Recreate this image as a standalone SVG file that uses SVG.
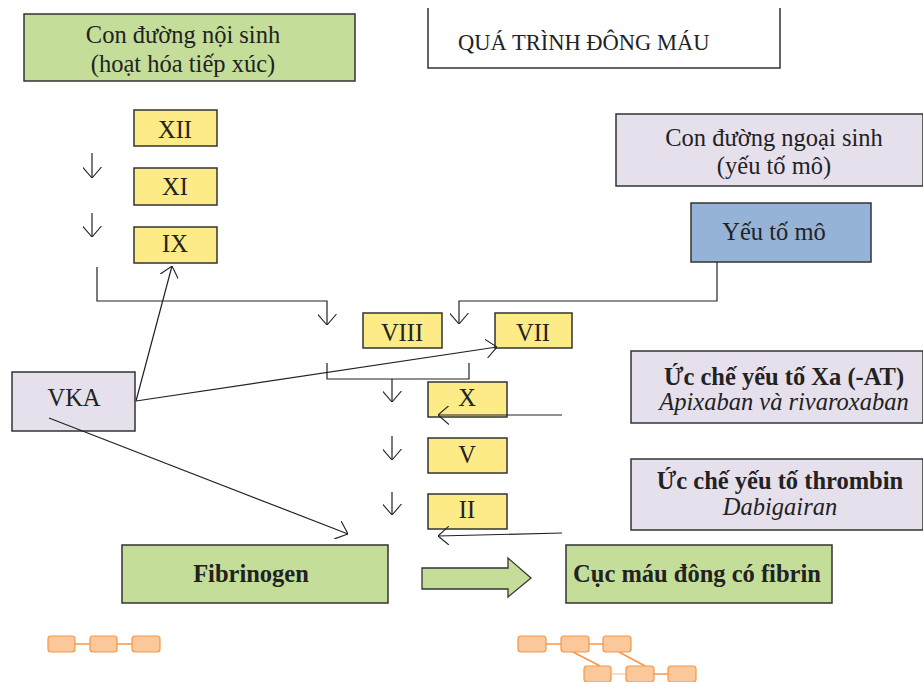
<svg xmlns="http://www.w3.org/2000/svg" width="923" height="682" viewBox="0 0 923 682" font-family="Liberation Serif, Times New Roman, serif">
  <style>
    .t { fill: #222; }
    .r { font-size: 24.5px; }
    .b { font-size: 24.5px; font-weight: bold; }
    .i { font-size: 24.5px; font-style: italic; }
    .box { stroke: #333; stroke-width: 1.5; }
    .green { fill: #c4de9a; }
    .yellow { fill: #fdeb87; }
    .lav { fill: #e6e0ec; }
    .blue { fill: #95b3d7; }
    .ln { fill: none; stroke: #222; stroke-width: 1.2; }
    .ch rect { fill: #fac89a; stroke: #f79646; stroke-width: 1.2; }
    .ch line { stroke: #f79646; stroke-width: 1.5; }
  </style>
  <defs>
    <marker id="open" viewBox="0 0 10 10" refX="10" refY="5" markerWidth="11" markerHeight="19" markerUnits="userSpaceOnUse" orient="auto" preserveAspectRatio="none">
      <path d="M0,0 L10,5 L0,10" fill="none" stroke="#222" stroke-width="1.1" vector-effect="non-scaling-stroke"/>
    </marker>
  </defs>

  <!-- title -->
  <g id="title">
    <path d="M428,8 V68 H780 V8" fill="none" stroke="#333" stroke-width="1.5"/>
    <text class="t" x="458" y="50" font-size="22.5">QUÁ TRÌNH ĐÔNG MÁU</text>
  </g>

  <g id="intrinsic">
    <rect class="box green" x="24" y="14" width="331" height="67"/>
    <text class="t r" x="183" y="43" text-anchor="middle">Con đường nội sinh</text>
    <text class="t r" x="183" y="72" text-anchor="middle">(hoạt hóa tiếp xúc)</text>
  </g>

  <g id="extrinsic">
    <rect class="box lav" x="616" y="114" width="307" height="72"/>
    <text class="t r" x="774" y="146" text-anchor="middle">Con đường ngoại sinh</text>
    <text class="t r" x="774" y="174" text-anchor="middle">(yếu tố mô)</text>
  </g>

  <g id="tissue-factor">
    <rect class="box blue" x="691" y="203" width="180" height="59"/>
    <text class="t r" x="774" y="240" text-anchor="middle">Yếu tố mô</text>
  </g>

  <g id="f12"><rect class="box yellow" x="134" y="110" width="83" height="36"/><text class="t r" x="175" y="138" text-anchor="middle">XII</text></g>
  <g id="f11"><rect class="box yellow" x="134" y="168" width="83" height="37"/><text class="t r" x="175" y="195" text-anchor="middle">XI</text></g>
  <g id="f9"><rect class="box yellow" x="134" y="227" width="83" height="36"/><text class="t r" x="175" y="252" text-anchor="middle">IX</text></g>
  <g id="f8"><rect class="box yellow" x="363" y="313" width="79" height="35"/><text class="t r" x="402" y="341" text-anchor="middle">VIII</text></g>
  <g id="f7"><rect class="box yellow" x="495" y="313" width="77" height="35"/><text class="t r" x="533" y="341" text-anchor="middle">VII</text></g>
  <g id="f10"><rect class="box yellow" x="428" y="382" width="79" height="35"/><text class="t r" x="467" y="406" text-anchor="middle">X</text></g>
  <g id="f5"><rect class="box yellow" x="428" y="438" width="79" height="35"/><text class="t r" x="467" y="463" text-anchor="middle">V</text></g>
  <g id="f2"><rect class="box yellow" x="428" y="494" width="79" height="35"/><text class="t r" x="467" y="518" text-anchor="middle">II</text></g>

  <g id="vka">
    <rect class="box lav" x="12" y="372" width="123" height="59"/>
    <text class="t r" x="74" y="406" text-anchor="middle">VKA</text>
  </g>

  <g id="xa-inhibitor">
    <rect class="box lav" x="631" y="351" width="292" height="72"/>
    <text class="t b" x="784" y="385" text-anchor="middle">Ức chế yếu tố Xa (-AT)</text>
    <text class="t i" x="784" y="410" text-anchor="middle">Apixaban và rivaroxaban</text>
  </g>

  <g id="thrombin-inhibitor">
    <rect class="box lav" x="631" y="459" width="292" height="71"/>
    <text class="t b" x="780" y="489" text-anchor="middle">Ức chế yếu tố thrombin</text>
    <text class="t i" x="780" y="515" text-anchor="middle">Dabigairan</text>
  </g>

  <g id="fibrinogen">
    <rect class="box green" x="122" y="545" width="266" height="58"/>
    <text class="t b" x="251" y="582" text-anchor="middle">Fibrinogen</text>
  </g>

  <g id="clot">
    <rect class="box green" x="566" y="545" width="266" height="58"/>
    <text class="t b" x="697" y="582" text-anchor="middle">Cục máu đông có fibrin</text>
  </g>

  <g id="block-arrow">
    <path d="M422,568 H508 V558 L531,578 L508,597 V589 H422 Z" fill="#c4de9a" stroke="#333" stroke-width="1.3"/>
  </g>

  <g id="connectors">
    <!-- cascade steps -->
    <line class="ln" x1="92" y1="153" x2="92" y2="178" marker-end="url(#open)"/>
    <line class="ln" x1="92" y1="213" x2="92" y2="237" marker-end="url(#open)"/>
    <line class="ln" x1="392" y1="379" x2="392" y2="402" marker-end="url(#open)"/>
    <line class="ln" x1="392" y1="436" x2="392" y2="460" marker-end="url(#open)"/>
    <line class="ln" x1="392" y1="492" x2="392" y2="515" marker-end="url(#open)"/>
    <!-- intrinsic to VIII -->
    <path class="ln" d="M97,267 V301 H327 V325" marker-end="url(#open)"/>
    <!-- tissue factor to VII -->
    <path class="ln" d="M717,262 V301 H459 V324" marker-end="url(#open)"/>
    <!-- VIII/VII bracket -->
    <path class="ln" d="M327,363 V379 H469 V363"/>
    <!-- VKA targets -->
    <line class="ln" x1="136" y1="401" x2="172" y2="266" marker-end="url(#open)"/>
    <line class="ln" x1="136" y1="401" x2="497" y2="347" marker-end="url(#open)"/>
    <line class="ln" x1="49" y1="418" x2="348" y2="534" marker-end="url(#open)"/>
    <!-- inhibitors -->
    <line class="ln" x1="562" y1="415" x2="438" y2="415" marker-end="url(#open)"/>
    <line class="ln" x1="562" y1="533" x2="438" y2="536" marker-end="url(#open)"/>
  </g>

  <!-- fibrin strands -->
  <g id="strand-single" class="ch">
    <line x1="75" y1="644" x2="90" y2="644"/>
    <line x1="117" y1="644" x2="132" y2="644"/>
    <rect x="48" y="636" width="27" height="16" rx="3"/>
    <rect x="90" y="636" width="27" height="16" rx="3"/>
    <rect x="132" y="636" width="28" height="16" rx="3"/>
  </g>
  <g id="strand-crosslinked" class="ch">
    <line x1="546" y1="644" x2="561" y2="644"/>
    <line x1="589" y1="644" x2="603" y2="644"/>
    <line x1="573" y1="652" x2="600" y2="666"/>
    <line x1="619" y1="652" x2="645" y2="666"/>
    <line x1="611" y1="674" x2="626" y2="674" style="stroke:#fbd3b0"/>
    <line x1="654" y1="674" x2="668" y2="674"/>
    <rect x="518" y="636" width="28" height="16" rx="3"/>
    <rect x="561" y="636" width="28" height="16" rx="3"/>
    <rect x="603" y="636" width="28" height="16" rx="3"/>
    <rect x="584" y="666" width="27" height="16" rx="3"/>
    <rect x="626" y="666" width="28" height="16" rx="3"/>
    <rect x="668" y="666" width="28" height="16" rx="3"/>
  </g>
</svg>
